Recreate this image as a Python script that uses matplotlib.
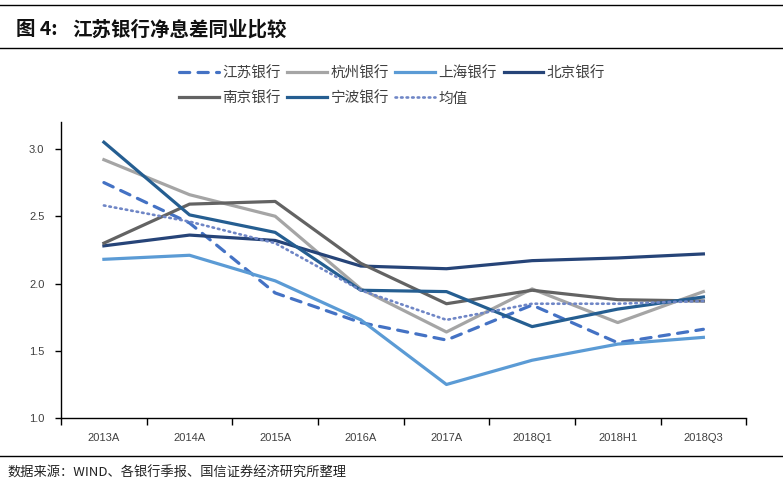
import matplotlib
matplotlib.use("Agg")
import matplotlib.pyplot as plt
from matplotlib.lines import Line2D

plt.rcParams['font.family'] = ['Noto Sans CJK SC', 'DejaVu Sans']

categories = ["2013A", "2014A", "2015A", "2016A", "2017A", "2018Q1", "2018H1", "2018Q3"]
jiangsu = [2.75, 2.45, 1.93, 1.71, 1.58, 1.84, 1.56, 1.66]
hangzhou = [2.92, 2.66, 2.50, 1.96, 1.64, 1.96, 1.71, 1.94]
shanghai = [2.18, 2.21, 2.02, 1.73, 1.25, 1.43, 1.55, 1.60]
beijing = [2.28, 2.36, 2.32, 2.13, 2.11, 2.17, 2.19, 2.22]
nanjing = [2.30, 2.59, 2.61, 2.15, 1.85, 1.95, 1.88, 1.87]
ningbo = [3.05, 2.51, 2.38, 1.95, 1.94, 1.68, 1.81, 1.90]
average = [2.58, 2.46, 2.30, 1.95, 1.73, 1.85, 1.85, 1.87]
yticks = [1.0, 1.5, 2.0, 2.5, 3.0]

fig = plt.figure(figsize=(7.83, 4.96), dpi=100)
ax = fig.add_axes([0.078, 0.157, 0.875, 0.597])

x = list(range(len(categories)))
lw = 2.3
series = [
    ("江苏银行", jiangsu, dict(color="#4472C4", linestyle=(0, (3.2, 2.6)), dash_capstyle="round")),
    ("杭州银行", hangzhou, dict(color="#A5A5A5", linestyle="-")),
    ("上海银行", shanghai, dict(color="#5B9BD5", linestyle="-")),
    ("北京银行", beijing, dict(color="#264478", linestyle="-")),
    ("南京银行", nanjing, dict(color="#636363", linestyle="-")),
    ("宁波银行", ningbo, dict(color="#255E91", linestyle="-")),
    ("均值", average, dict(color="#6F86C6", linestyle=(0, (0.6, 1.5)), dash_capstyle="round", lw_override=1.9)),
]
handles = {}
for name, vals, st in series:
    st = dict(st)
    w = st.pop("lw_override", lw)
    h, = ax.plot(x, vals, linewidth=w, label=name, **st)
    handles[name] = h

ax.set_xlim(-0.5, len(categories) - 0.5)
ax.set_ylim(1.0, 3.2)
ax.set_yticks(yticks)
ax.set_yticklabels([f"{v:.1f}" for v in yticks])
ax.set_xticks(x)
ax.set_xticklabels(categories)
ax.set_xticks([i - 0.5 for i in range(len(categories) + 1)], minor=True)
ax.tick_params(axis='x', which='major', length=0, pad=11, labelsize=8, labelcolor="#404040")
ax.tick_params(axis='x', which='minor', length=5, width=1, direction='out')
ax.tick_params(axis='y', length=4, width=1, direction='out', labelsize=8, labelcolor="#404040", pad=8)
for lab in ax.get_xticklabels() + ax.get_yticklabels():
    lab.set_family(['Liberation Sans', 'DejaVu Sans'])
for s in ["top", "right"]:
    ax.spines[s].set_visible(False)
for s in ["left", "bottom"]:
    ax.spines[s].set_linewidth(1)
    ax.spines[s].set_color("black")

order = ["江苏银行", "南京银行", "杭州银行", "宁波银行", "上海银行", "均值", "北京银行"]
leg = fig.legend([handles[n] for n in order], order, ncol=4, loc="upper left",
                 bbox_to_anchor=(0.229, 0.866), frameon=False, fontsize=10.5,
                 handlelength=2.7, handletextpad=0.25, columnspacing=0.45,
                 labelspacing=0.75, borderaxespad=0, borderpad=0)
for t in leg.get_texts():
    t.set_color("#404040")

# title and rules
fig.add_artist(Line2D([0.0, 1.0], [0.99, 0.99], color="black", lw=1))
fig.add_artist(Line2D([0.0, 1.0], [0.904, 0.904], color="black", lw=1))
fig.add_artist(Line2D([0.0, 1.0], [0.081, 0.081], color="black", lw=1))
fig.text(0.021, 0.94, "图 4:", fontsize=14, fontweight="bold",
         va="center", ha="left", color="#111111")
fig.text(0.092, 0.94, "江苏银行净息差同业比较", fontsize=14, fontweight="bold",
         va="center", ha="left", color="#111111")
fig.text(0.01, 0.047, "数据来源：WIND、各银行季报、国信证券经济研究所整理", fontsize=9.5,
         va="center", ha="left", color="#222222")

fig.savefig("out.png", dpi=100)
